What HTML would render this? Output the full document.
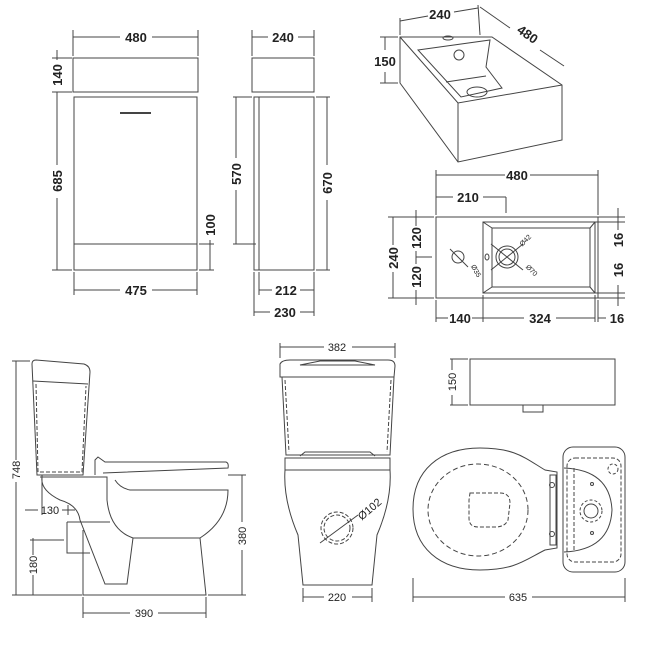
<!DOCTYPE html>
<html><head><meta charset="utf-8"><style>
html,body{margin:0;padding:0;background:#fff}
svg{display:block}
text{font-family:"Liberation Sans",Arial,sans-serif;fill:#222}
.b{font-weight:bold;font-size:13px}
.s{font-size:11px}
</style></head><body>
<svg width="650" height="650" viewBox="0 0 650 650" xmlns="http://www.w3.org/2000/svg">
<g fill="none" stroke="#444" stroke-width="1">
<!-- cabinet front -->
<rect x="73" y="58" width="125" height="34"/>
<rect x="74" y="97" width="123" height="173"/>
<line x1="74" y1="244" x2="197" y2="244"/>
<line x1="120" y1="113" x2="151" y2="113" stroke-width="2"/>
<line x1="73" y1="30" x2="73" y2="56"/><line x1="198" y1="30" x2="198" y2="56"/>
<line x1="73" y1="37" x2="120" y2="37"/><line x1="152" y1="37" x2="198" y2="37"/>
<line x1="52" y1="58" x2="72" y2="58"/><line x1="52" y1="92" x2="72" y2="92"/><line x1="52" y1="270" x2="72" y2="270"/>
<line x1="57" y1="50" x2="57" y2="60"/><line x1="57" y1="92" x2="57" y2="165"/><line x1="57" y1="198" x2="57" y2="270"/>
<line x1="199" y1="244" x2="214" y2="244"/><line x1="199" y1="270" x2="214" y2="270"/><line x1="210" y1="240" x2="210" y2="270"/>
<line x1="74" y1="272" x2="74" y2="295"/><line x1="197" y1="272" x2="197" y2="295"/>
<line x1="74" y1="290" x2="120" y2="290"/><line x1="152" y1="290" x2="197" y2="290"/>
<!-- cabinet side -->
<rect x="252" y="58" width="62" height="34"/>
<rect x="254" y="97" width="60" height="173"/>
<line x1="259" y1="97" x2="259" y2="270"/>
<line x1="252" y1="30" x2="252" y2="56"/><line x1="314" y1="30" x2="314" y2="56"/>
<line x1="252" y1="37" x2="268" y2="37"/><line x1="298" y1="37" x2="314" y2="37"/>
<line x1="233" y1="97" x2="252" y2="97"/><line x1="233" y1="244" x2="256" y2="244"/>
<line x1="236" y1="97" x2="236" y2="158"/><line x1="236" y1="190" x2="236" y2="244"/>
<line x1="316" y1="97" x2="330" y2="97"/><line x1="316" y1="270" x2="330" y2="270"/>
<line x1="327" y1="97" x2="327" y2="165"/><line x1="327" y1="200" x2="327" y2="270"/>
<line x1="254" y1="272" x2="254" y2="316"/><line x1="259" y1="272" x2="259" y2="295"/><line x1="314" y1="272" x2="314" y2="316"/>
<line x1="259" y1="290" x2="272" y2="290"/><line x1="300" y1="290" x2="314" y2="290"/>
<line x1="254" y1="312" x2="270" y2="312"/><line x1="300" y1="312" x2="314" y2="312"/>
<!-- basin iso -->
<path d="M400,37 L492,37 L562,85 L562,140 L458,162 L400,83 Z"/>
<path d="M400,37 L458,103 L562,85"/><line x1="458" y1="103" x2="458" y2="162"/>
<path d="M418,50 L490,40 L486,67 L502,88 L461,97 Z"/>
<path d="M446,82 L486,76"/>
<circle cx="459" cy="55" r="5"/><ellipse cx="477" cy="92" rx="10" ry="5"/>
<ellipse cx="448" cy="38" rx="5" ry="2"/>
<line x1="400" y1="18" x2="400" y2="35"/><line x1="478" y1="5" x2="480" y2="35"/>
<line x1="400" y1="21" x2="428" y2="16"/><line x1="454" y1="12" x2="478" y2="8"/>
<line x1="480" y1="7" x2="510" y2="28"/><line x1="540" y1="50" x2="564" y2="66"/>
<line x1="380" y1="37" x2="398" y2="37"/><line x1="380" y1="83" x2="398" y2="83"/>
<line x1="385" y1="37" x2="385" y2="50"/><line x1="385" y1="72" x2="385" y2="83"/>
<!-- basin plan -->
<rect x="436" y="217" width="162" height="81"/>
<rect x="483" y="222" width="112" height="71"/>
<rect x="492" y="228" width="98" height="59"/>
<line x1="483" y1="222" x2="492" y2="228"/><line x1="595" y1="222" x2="590" y2="228"/><line x1="483" y1="293" x2="492" y2="287"/><line x1="595" y1="293" x2="590" y2="287"/>
<circle cx="458" cy="257" r="6"/><circle cx="507" cy="257" r="11"/><circle cx="507" cy="257" r="8"/>
<line x1="491" y1="244" x2="523" y2="270"/><line x1="491" y1="270" x2="523" y2="244"/>
<line x1="450" y1="249" x2="468" y2="267"/>
<ellipse cx="487" cy="257" rx="2" ry="3"/>
<line x1="436" y1="170" x2="436" y2="215"/><line x1="598" y1="170" x2="598" y2="215"/>
<line x1="436" y1="175" x2="505" y2="175"/><line x1="530" y1="175" x2="598" y2="175"/>
<line x1="436" y1="197" x2="453" y2="197"/><line x1="483" y1="197" x2="506" y2="197"/><line x1="506" y1="197" x2="506" y2="213"/>
<line x1="388" y1="217" x2="434" y2="217"/><line x1="388" y1="298" x2="434" y2="298"/>
<line x1="393" y1="217" x2="393" y2="245"/><line x1="393" y1="272" x2="393" y2="298"/>
<line x1="416" y1="210" x2="416" y2="226"/><line x1="416" y1="251" x2="416" y2="264"/><line x1="416" y1="290" x2="416" y2="305"/>
<line x1="416" y1="257" x2="432" y2="257"/>
<line x1="598" y1="217" x2="625" y2="217"/><line x1="595" y1="222" x2="625" y2="222"/><line x1="595" y1="293" x2="625" y2="293"/><line x1="598" y1="298" x2="625" y2="298"/>
<line x1="618" y1="208" x2="618" y2="230"/><line x1="618" y1="285" x2="618" y2="306"/>
<line x1="436" y1="300" x2="436" y2="322"/><line x1="483" y1="295" x2="483" y2="322"/><line x1="595" y1="295" x2="595" y2="322"/><line x1="598" y1="300" x2="598" y2="322"/>
<line x1="436" y1="318" x2="448" y2="318"/><line x1="472" y1="318" x2="483" y2="318"/><line x1="483" y1="318" x2="524" y2="318"/><line x1="556" y1="318" x2="595" y2="318"/><line x1="598" y1="318" x2="606" y2="318"/>
<!-- side toilet -->
<path d="M32,364 Q32,360 36,360 L84,364 Q90,366 90,372 L83,475 L37,475 Z"/>
<path d="M33,381 L88,384"/>
<path d="M36,384 L38,472 L82,472 L86,386" stroke-dasharray="4,2"/>
<path d="M95,475 L95,460 L98,457 L105,462 L226,462 Q229,463 228,468 L103,473"/>
<path d="M40,477 L107,477 L107,500 Q110,530 133,538 L200,538 Q228,520 228,490 L130,490 Q120,488 115,480"/>
<path d="M42,477 Q40,490 60,500 Q78,505 80,520 L105,584 L127,584 L133,538"/>
<path d="M200,538 L206,595 L83,595 L83,530"/>
<path d="M67,522 L110,522 M67,522 L67,553 L90,553"/>
<line x1="12" y1="361" x2="30" y2="361"/><line x1="12" y1="595" x2="82" y2="595"/>
<line x1="16" y1="361" x2="16" y2="460"/><line x1="16" y1="482" x2="16" y2="595"/>
<line x1="30" y1="540" x2="64" y2="540"/>
<line x1="33" y1="538" x2="33" y2="555"/><line x1="33" y1="575" x2="33" y2="595"/>
<line x1="42" y1="475" x2="42" y2="515"/><line x1="68" y1="505" x2="68" y2="515"/>
<line x1="25" y1="510" x2="38" y2="510"/><line x1="62" y1="510" x2="75" y2="510"/>
<line x1="228" y1="475" x2="246" y2="475"/><line x1="208" y1="595" x2="246" y2="595"/>
<line x1="242" y1="475" x2="242" y2="522"/><line x1="242" y1="550" x2="242" y2="595"/>
<line x1="83" y1="597" x2="83" y2="618"/><line x1="206" y1="597" x2="206" y2="618"/>
<line x1="83" y1="613" x2="130" y2="613"/><line x1="158" y1="613" x2="206" y2="613"/>
<!-- front toilet -->
<path d="M280,364 Q282,360 290,360 L388,360 Q395,360 395,366 L394,377 L280,377 Z"/>
<path d="M300,365 L320,361 L355,361 L375,365 Z"/>
<path d="M282,377 L286,455 L390,455 L394,377"/>
<path d="M285,380 L289,452 M391,380 L387,452" stroke-dasharray="4,2"/>
<path d="M300,456 L305,452 L370,452 L375,456"/>
<path d="M285,458 L390,458 L390,470 L285,470 Z"/>
<path d="M285,470 Q283,500 298,535 L303,585 L372,585 L377,535 Q392,500 390,470"/>
<circle cx="337" cy="528" r="16" stroke-dasharray="4,2"/>
<circle cx="337" cy="528" r="13" stroke-dasharray="4,2"/>
<line x1="320" y1="543" x2="358" y2="515"/>
<line x1="280" y1="343" x2="280" y2="358"/><line x1="395" y1="343" x2="395" y2="358"/>
<line x1="280" y1="347" x2="324" y2="347"/><line x1="352" y1="347" x2="395" y2="347"/>
<line x1="303" y1="588" x2="303" y2="602"/><line x1="372" y1="588" x2="372" y2="602"/>
<line x1="303" y1="597" x2="324" y2="597"/><line x1="352" y1="597" x2="372" y2="597"/>
<!-- basin side -->
<rect x="470" y="359" width="145" height="46"/>
<rect x="523" y="405" width="20" height="7"/>
<line x1="450" y1="359" x2="468" y2="359"/><line x1="450" y1="405" x2="468" y2="405"/>
<line x1="452" y1="359" x2="452" y2="370"/><line x1="452" y1="395" x2="452" y2="405"/>
<!-- top toilet -->
<path d="M413,509 C413,470 440,448 480,448 C515,448 525,458 545,470 L557,472 L557,548 L545,550 C525,560 515,570 480,570 C440,570 413,548 413,509 Z"/>
<ellipse cx="478" cy="510" rx="50" ry="46" stroke-dasharray="5,3"/>
<path d="M470,493 L500,493 Q510,493 510,503 L508,520 Q505,527 495,527 L478,527 Q469,527 469,518 L469,500 Z" stroke-dasharray="4,2"/>
<rect x="550" y="475" width="6" height="70"/>
<circle cx="552" cy="485" r="2.5"/><circle cx="552" cy="534" r="2.5"/>
<rect x="563" y="447" width="62" height="125" rx="10"/>
<rect x="567" y="458" width="54" height="104" rx="8" stroke-dasharray="4,2"/>
<path d="M564,468 Q610,470 612,510 Q610,550 564,552" />
<line x1="574" y1="468" x2="574" y2="552" stroke-dasharray="4,2"/>
<circle cx="591" cy="511" r="7"/><circle cx="591" cy="511" r="11" stroke-dasharray="3,2"/>
<circle cx="592" cy="484" r="1.5"/><circle cx="592" cy="533" r="1.5"/>
<circle cx="613" cy="469" r="5" stroke-dasharray="3,2"/>
<line x1="413" y1="578" x2="413" y2="602"/><line x1="625" y1="578" x2="625" y2="602"/>
<line x1="413" y1="597" x2="505" y2="597"/><line x1="532" y1="597" x2="625" y2="597"/>
</g>
<!-- labels -->
<g class="b" text-anchor="middle">
<text x="136" y="42">480</text><text x="283" y="42">240</text>
<text x="136" y="295">475</text><text x="286" y="295">212</text><text x="285" y="317">230</text>
<text transform="translate(62,75) rotate(-90)">140</text>
<text transform="translate(62,181) rotate(-90)">685</text>
<text transform="translate(215,225) rotate(-90)">100</text>
<text transform="translate(241,174) rotate(-90)">570</text>
<text transform="translate(332,183) rotate(-90)">670</text>
<text x="440" y="19">240</text>
<text transform="translate(525,38) rotate(35)">480</text>
<text x="385" y="66">150</text>
<text x="517" y="180">480</text><text x="468" y="202">210</text>
<text transform="translate(398,258) rotate(-90)">240</text>
<text transform="translate(421,238) rotate(-90)">120</text>
<text transform="translate(421,277) rotate(-90)">120</text>
<text transform="translate(623,240) rotate(-90)">16</text>
<text transform="translate(623,270) rotate(-90)">16</text>
<text x="460" y="323">140</text><text x="540" y="323">324</text><text x="617" y="323">16</text>
</g>
<g class="s" text-anchor="middle">
<text font-size="7" transform="translate(527,242) rotate(-45)">Ø42</text>
<text font-size="7" transform="translate(530,272) rotate(45)">Ø70</text>
<text font-size="7" transform="translate(474,272) rotate(60)">Ø35</text>
<text transform="translate(20,470) rotate(-90)">748</text>
<text x="50" y="514">130</text>
<text transform="translate(37,565) rotate(-90)">180</text>
<text transform="translate(246,536) rotate(-90)">380</text>
<text x="144" y="617">390</text>
<text x="337" y="351">382</text>
<text x="337" y="601">220</text>
<text transform="translate(372,512) rotate(-40)">Ø102</text>
<text transform="translate(456,382) rotate(-90)">150</text>
<text x="518" y="601">635</text>
</g>
</svg>
</body></html>
